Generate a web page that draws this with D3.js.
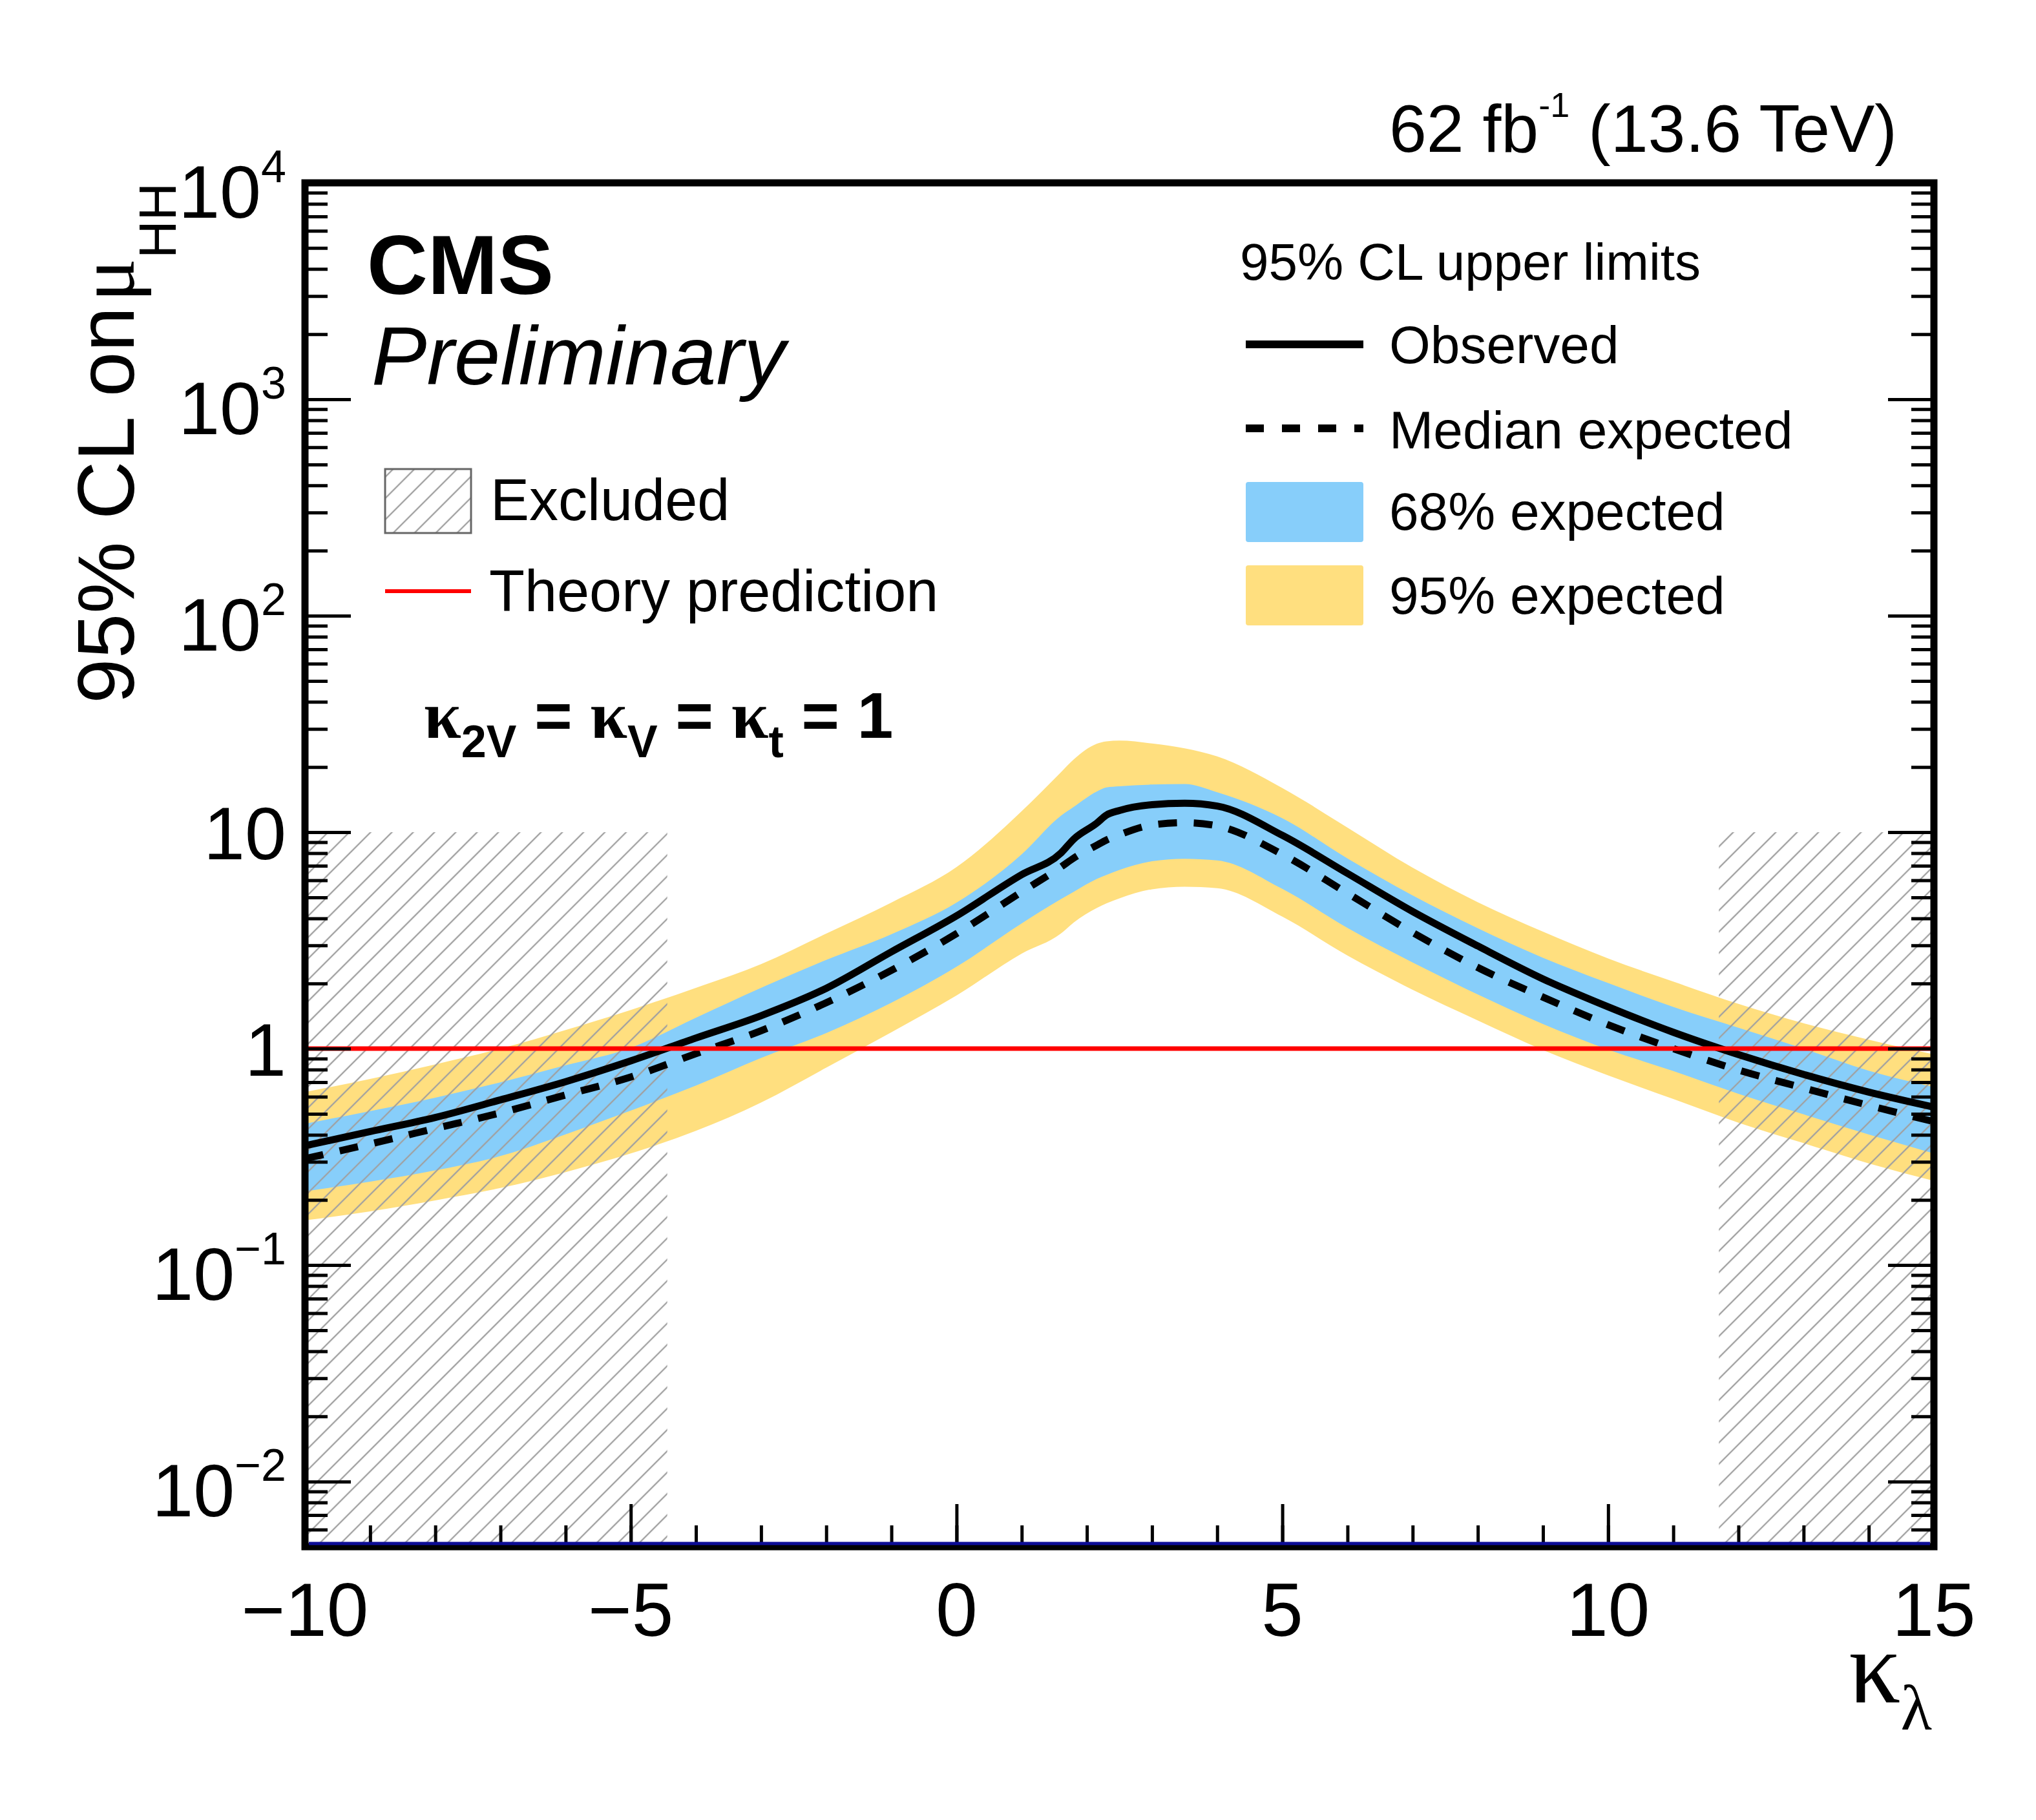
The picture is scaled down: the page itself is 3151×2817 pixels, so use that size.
<!DOCTYPE html>
<html>
<head>
<meta charset="utf-8">
<script src="https://cdn.jsdelivr.net/npm/d3@7"></script>
<style>
  body { margin: 0; background: #fff; }
  text { font-family: "Liberation Sans", Arial, Helvetica, sans-serif; fill: #000; }
  .greek { font-family: "Liberation Serif", "DejaVu Serif", serif; }
</style>
</head>
<body>
<svg id="chart" width="3151" height="2817"></svg>
<script>
// kappa_lambda scan points
var kl = [-10, -9, -8, -7, -6, -5, -4, -3, -2, -1, 0, 1, 1.6, 1.8, 2.15, 2.3, 2.5, 3, 3.5, 4, 5, 6, 7, 8, 9, 10, 11, 12, 13, 14, 15];

// 95% CL upper limits on mu_HH
var observed = [0.356, 0.414, 0.481, 0.580, 0.704, 0.878, 1.12, 1.42, 1.90, 2.80, 4.11, 6.37, 8.0, 9.3, 11.0, 12.0, 12.6, 13.4, 13.6, 13.2, 9.67, 6.45, 4.3, 2.98, 2.10, 1.56, 1.19, 0.939, 0.760, 0.630, 0.537];
var expected = [0.310, 0.363, 0.428, 0.505, 0.611, 0.739, 0.948, 1.21, 1.63, 2.30, 3.40, 5.30, 6.9, 7.6, 8.7, 9.2, 9.73, 10.8, 11.07, 10.7, 7.90, 5.22, 3.44, 2.37, 1.73, 1.29, 1.00, 0.796, 0.658, 0.547, 0.46];
var band68Hi = [0.450, 0.515, 0.594, 0.699, 0.838, 1.01, 1.39, 1.91, 2.57, 3.38, 4.73, 7.90, 11.9, 13.1, 15.4, 16.1, 16.3, 16.6, 16.7, 15.3, 11.6, 7.56, 5.1, 3.60, 2.63, 2.01, 1.56, 1.25, 1.00, 0.791, 0.664];
var band68Lo = [0.219, 0.243, 0.274, 0.319, 0.402, 0.517, 0.675, 0.906, 1.18, 1.63, 2.39, 3.79, 4.90, 5.31, 6.08, 6.35, 6.69, 7.34, 7.54, 7.41, 5.47, 3.61, 2.50, 1.78, 1.30, 0.99, 0.788, 0.619, 0.497, 0.401, 0.328];
var band95Hi = [0.630, 0.725, 0.846, 1.0, 1.22, 1.51, 1.91, 2.46, 3.40, 4.73, 6.90, 12.5, 18.9, 21.7, 25.6, 26.3, 26.5, 25.7, 24.4, 22.4, 16.0, 10.5, 6.85, 4.75, 3.47, 2.61, 2.04, 1.61, 1.31, 1.10, 0.940];
var band95Lo = [0.161, 0.177, 0.199, 0.227, 0.269, 0.328, 0.417, 0.564, 0.817, 1.19, 1.76, 2.75, 3.40, 3.83, 4.46, 4.69, 4.95, 5.45, 5.60, 5.51, 4.07, 2.69, 1.87, 1.35, 0.986, 0.753, 0.585, 0.455, 0.366, 0.295, 0.245];

// theory prediction and excluded ranges
var theory = 1;
var excluded = [[-10, -4.44], [11.7, 15]];
var excludedTop = 10;

// axes
var xDomain = [-10, 15];
var yDomain = [0.005, 1e4];
var xMajor = [-10, -5, 0, 5, 10, 15];
var xLabels = ["\u221210", "\u22125", "0", "5", "10", "15"];
var yMajor = [1e-2, 1e-1, 1, 10, 1e2, 1e3, 1e4];
var yLabelBase = ["10", "10", "1", "10", "10", "10", "10"];
var yLabelSup = ["\u22122", "\u22121", "", "", "2", "3", "4"];

var svg = d3.select("#chart");
svg.append("rect").attr("width", 3151).attr("height", 2817).attr("fill", "#fff");

var pL = 472, pR = 2993, pT = 283, pB = 2394;

var x = d3.scaleLinear().domain(xDomain).range([pL, pR]);
var y = d3.scaleLog().domain(yDomain).range([pB, pT]);

var defs = svg.append("defs");
defs.append("clipPath").attr("id", "plotclip")
	.append("rect").attr("x", pL).attr("y", pT).attr("width", pR - pL).attr("height", pB - pT);

var hatch = defs.append("pattern")
	.attr("id", "hatch")
	.attr("patternUnits", "userSpaceOnUse")
	.attr("width", 23.3).attr("height", 23.3)
	.attr("patternTransform", "rotate(45)");
hatch.append("line")
	.attr("x1", 11.65).attr("y1", -1).attr("x2", 11.65).attr("y2", 24.3)
	.attr("stroke", "#a0a0a0").attr("stroke-width", 2.3);

var pts = kl.map(function (k, i) {
	return {
		k: k, obs: observed[i], exp: expected[i],
		lo68: band68Lo[i], hi68: band68Hi[i], lo95: band95Lo[i], hi95: band95Hi[i]
	};
});

var plot = svg.append("g").attr("clip-path", "url(#plotclip)");

function band(lo, hi) {
	return d3.area()
		.x(function (d) { return x(d.k); })
		.y0(function (d) { return y(d[lo]); })
		.y1(function (d) { return y(d[hi]); })
		.curve(d3.curveMonotoneX);
}

plot.append("path").datum(pts).attr("d", band("lo95", "hi95")).attr("fill", "#FFDF7F");
plot.append("path").datum(pts).attr("d", band("lo68", "hi68")).attr("fill", "#87CEFA");

// excluded regions
plot.selectAll(".excl")
	.data(excluded)
	.enter()
	.append("rect")
	.attr("class", "excl")
	.attr("x", function (d) { return x(d[0]); })
	.attr("width", function (d) { return x(d[1]) - x(d[0]); })
	.attr("y", y(excludedTop))
	.attr("height", pB - y(excludedTop))
	.attr("fill", "url(#hatch)");

function curve(key) {
	return d3.line()
		.x(function (d) { return x(d.k); })
		.y(function (d) { return y(d[key]); })
		.curve(d3.curveMonotoneX);
}

plot.append("path").datum(pts).attr("d", curve("exp"))
	.attr("fill", "none").attr("stroke", "#000").attr("stroke-width", 11)
	.attr("stroke-dasharray", "29,26");
plot.append("path").datum(pts).attr("d", curve("obs"))
	.attr("fill", "none").attr("stroke", "#000").attr("stroke-width", 11)
	.attr("stroke-linejoin", "round");

plot.append("line")
	.attr("x1", x(xDomain[0])).attr("x2", x(xDomain[1]))
	.attr("y1", y(theory)).attr("y2", y(theory))
	.attr("stroke", "#ff0000").attr("stroke-width", 7);

// ticks
var yMinor = [];
d3.range(-3, 4).forEach(function (e) {
	d3.range(2, 10).forEach(function (m) {
		var v = m * Math.pow(10, e);
		if (v >= yDomain[0] && v <= yDomain[1]) yMinor.push(v);
	});
});
var xMinor = d3.range(-10, 16);

function ticks(axis, tx, ty) {
	var g = svg.append("g").attr("transform", "translate(" + tx + "," + ty + ")").call(axis);
	g.select(".domain").remove();
	g.selectAll("line").attr("stroke", "#000").attr("stroke-width", 5);
	g.selectAll("text").remove();
	return g;
}

ticks(d3.axisLeft(y).tickValues(yMajor).tickSize(-71), pL, 0);
ticks(d3.axisLeft(y).tickValues(yMinor).tickSize(-35), pL, 0);
ticks(d3.axisRight(y).tickValues(yMajor).tickSize(-71), pR, 0);
ticks(d3.axisRight(y).tickValues(yMinor).tickSize(-35), pR, 0);
ticks(d3.axisBottom(x).tickValues(xMajor).tickSize(-66), 0, pB);
ticks(d3.axisBottom(x).tickValues(xMinor).tickSize(-33), 0, pB);

// frame
svg.append("rect")
	.attr("x", pL).attr("y", pT).attr("width", pR - pL).attr("height", pB - pT)
	.attr("fill", "none").attr("stroke", "#000").attr("stroke-width", 11);
svg.append("line")
	.attr("x1", pL + 6).attr("x2", pR - 6).attr("y1", pB - 5).attr("y2", pB - 5)
	.attr("stroke", "#0c0c96").attr("stroke-width", 5);

// y tick labels
yMajor.forEach(function (v, i) {
	var hasSup = yLabelSup[i] !== "";
	var t = svg.append("text")
		.attr("x", 443)
		.attr("y", y(v) + (hasSup ? 54 : 42))
		.attr("text-anchor", "end")
		.attr("font-size", 115);
	t.append("tspan").text(yLabelBase[i]);
	if (hasSup) {
		t.append("tspan").attr("dy", -55).attr("font-size", 70).text(yLabelSup[i]);
	}
});

// x tick labels
xMajor.forEach(function (v, i) {
	svg.append("text")
		.attr("x", x(v)).attr("y", 2532)
		.attr("text-anchor", "middle")
		.attr("font-size", 116)
		.text(xLabels[i]);
});

// x title
var xt = svg.append("text").attr("x", 2990).attr("y", 2635).attr("text-anchor", "end");
xt.append("tspan").attr("class", "greek").attr("font-size", 160).text("\u03BA");
xt.append("tspan").attr("class", "greek").attr("font-size", 100).attr("dy", 42).text("\u03BB");

// y title
var yt = svg.append("text")
	.attr("transform", "translate(207," + pT + ") rotate(-90)")
	.attr("text-anchor", "end")
	.attr("font-size", 125);
yt.append("tspan").text("95% CL on");
yt.append("tspan").attr("class", "greek").attr("dx", 8).text("\u03BC");
yt.append("tspan").attr("font-size", 81).attr("dy", 65).text("HH");

// lumi label
var lumi = svg.append("text").attr("x", 2936).attr("y", 235).attr("text-anchor", "end").attr("font-size", 104);
lumi.append("tspan").text("62 fb");
lumi.append("tspan").attr("font-size", 54).attr("dy", -54).text("-1");
lumi.append("tspan").attr("dy", 54).text(" (13.6 TeV)");

// CMS Preliminary
svg.append("text").attr("x", 568).attr("y", 455).attr("font-size", 130).attr("font-weight", "bold").text("CMS");
svg.append("text").attr("x", 575).attr("y", 595).attr("font-size", 128).attr("font-style", "italic").text("Preliminary");

// left legend
svg.append("rect").attr("x", 596).attr("y", 726).attr("width", 133).attr("height", 99)
	.attr("fill", "url(#hatch)").attr("stroke", "#666").attr("stroke-width", 3);
svg.append("text").attr("x", 759).attr("y", 805).attr("font-size", 90).text("Excluded");
svg.append("line").attr("x1", 596).attr("x2", 729).attr("y1", 915).attr("y2", 915)
	.attr("stroke", "#ff0000").attr("stroke-width", 6);
svg.append("text").attr("x", 757).attr("y", 946).attr("font-size", 90).text("Theory prediction");

// coupling label
var kt = svg.append("text").attr("x", 656).attr("y", 1142).attr("font-size", 100).attr("font-weight", "bold");
[["\u03BA", "2V", " = "], ["\u03BA", "V", " = "], ["\u03BA", "t", " = 1"]].forEach(function (p) {
	kt.append("tspan").attr("class", "greek").attr("font-size", 104).text(p[0]);
	kt.append("tspan").attr("font-size", 70).attr("dy", 30).text(p[1]);
	kt.append("tspan").attr("dy", -30).text(p[2]);
});

// right legend
svg.append("text").attr("x", 1919).attr("y", 433).attr("font-size", 80).text("95% CL upper limits");
var legX0 = 1928, legX1 = 2110, legText = 2150;
svg.append("line").attr("x1", legX0).attr("x2", legX1).attr("y1", 533).attr("y2", 533)
	.attr("stroke", "#000").attr("stroke-width", 12);
svg.append("text").attr("x", legText).attr("y", 562).attr("font-size", 82).text("Observed");
svg.append("line").attr("x1", legX0).attr("x2", legX1).attr("y1", 663).attr("y2", 663)
	.attr("stroke", "#000").attr("stroke-width", 12).attr("stroke-dasharray", "28,28");
svg.append("text").attr("x", legText).attr("y", 694).attr("font-size", 82).text("Median expected");
svg.append("rect").attr("x", legX0).attr("y", 746).attr("width", legX1 - legX0).attr("height", 93)
	.attr("rx", 4).attr("fill", "#87CEFA");
svg.append("text").attr("x", legText).attr("y", 820).attr("font-size", 82).text("68% expected");
svg.append("rect").attr("x", legX0).attr("y", 875).attr("width", legX1 - legX0).attr("height", 93)
	.attr("rx", 4).attr("fill", "#FFDF7F");
svg.append("text").attr("x", legText).attr("y", 950).attr("font-size", 82).text("95% expected");
</script>
</body>
</html>
